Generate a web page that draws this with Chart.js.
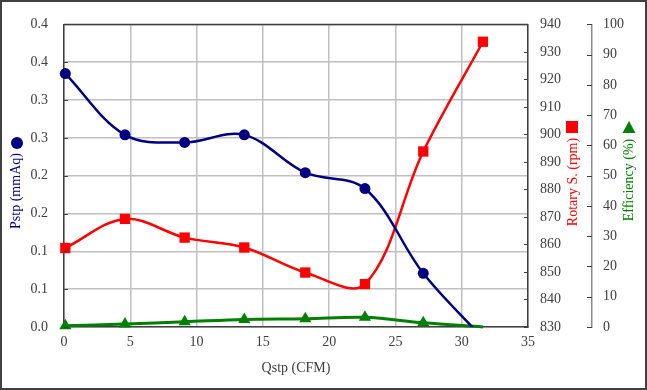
<!DOCTYPE html>
<html>
<head>
<meta charset="utf-8">
<script src="https://cdn.jsdelivr.net/npm/chart.js@4.4.1/dist/chart.umd.min.js"></script>
<style>
  html, body { margin: 0; padding: 0; background: #fff; }
  #wrap { width: 647px; height: 390px; position: relative; }
</style>
</head>
<body>
<div id="wrap"><canvas id="perfChart"></canvas></div>
<script>
// values
const qstp = [0.1, 4.6, 9.1, 13.6, 18.2, 22.7, 27.1, 31.6];
const pstp = [0.335, 0.254, 0.244, 0.254, 0.204, 0.183, 0.071, -0.015];
const rotarySpeed = [858.7, 869.3, 862.5, 858.9, 849.8, 845.6, 893.8, 933.7];
const efficiency = [0.4, 1.0, 1.7, 2.5, 2.7, 3.2, 1.4, 0];
const pstpTickLabels = ['0.0', '0.1', '0.1', '0.2', '0.2', '0.3', '0.3', '0.4', '0.4'];

const toPoints = ys => qstp.map((x, i) => ({ x: x, y: ys[i] }));

const FONT = "'Liberation Serif', 'Times New Roman', serif";
const GREY = '#404040';
const NAVY = '#000080';
const RED = '#ff0000';
const GREEN = '#008000';

function rotatedText(ctx, text, x, y, color) {
  ctx.save();
  ctx.translate(x, y);
  ctx.rotate(-Math.PI / 2);
  ctx.fillStyle = color;
  ctx.textAlign = 'center';
  ctx.textBaseline = 'middle';
  ctx.fillText(text, 0, 0);
  ctx.restore();
}

// frame, plot box top, inner ticks and the three side titles with their markers
const decorations = {
  id: 'decorations',
  afterDraw(chart) {
    const ctx = chart.ctx;
    const area = chart.chartArea;
    const sY = chart.scales.y, sR = chart.scales.rpm, sE = chart.scales.eff;
    ctx.save();
    ctx.strokeStyle = GREY;
    ctx.lineWidth = 1.5;
    ctx.beginPath();
    ctx.moveTo(area.left, area.top);
    ctx.lineTo(area.right, area.top);
    ctx.stroke();

    ctx.lineWidth = 1;
    ctx.beginPath();
    sY.ticks.forEach(t => {
      const y = Math.round(sY.getPixelForValue(t.value)) + 0.5;
      ctx.moveTo(area.left, y); ctx.lineTo(area.left + 4, y);
    });
    sR.ticks.forEach(t => {
      const y = Math.round(sR.getPixelForValue(t.value)) + 0.5;
      ctx.moveTo(area.right, y); ctx.lineTo(area.right - 4, y);
    });
    sE.ticks.forEach(t => {
      const y = Math.round(sE.getPixelForValue(t.value)) + 0.5;
      ctx.moveTo(sE.left, y); ctx.lineTo(sE.left - 5, y);
    });
    ctx.stroke();

    ctx.lineWidth = 2;
    ctx.strokeRect(1, 1, chart.width - 2, chart.height - 2);

    ctx.font = '14px ' + FONT;
    rotatedText(ctx, 'Pstp (mmAq)', 16, 191, NAVY);
    rotatedText(ctx, 'Rotary S. (rpm)', 573, 182, RED);
    rotatedText(ctx, 'Efficiency (%)', 629, 180, GREEN);

    ctx.fillStyle = NAVY;
    ctx.beginPath();
    ctx.arc(17, 143, 6, 0, Math.PI * 2);
    ctx.fill();
    ctx.fillStyle = RED;
    ctx.fillRect(566, 121, 12, 12);
    ctx.fillStyle = GREEN;
    ctx.beginPath();
    ctx.moveTo(629, 121);
    ctx.lineTo(635.5, 133);
    ctx.lineTo(622.5, 133);
    ctx.closePath();
    ctx.fill();
    ctx.restore();
  }
};

const tickFont = { family: FONT, size: 14 };

new Chart(document.getElementById('perfChart'), {
  type: 'line',
  data: {
    datasets: [
      {
        label: 'Pstp',
        data: toPoints(pstp),
        yAxisID: 'y',
        borderColor: NAVY,
        backgroundColor: NAVY,
        borderWidth: 2.5,
        pointStyle: 'circle',
        pointRadius: 5.5,
        pointBorderWidth: 0,
        tension: 0.35,
        clip: { left: 10, top: 10, right: 10, bottom: 0 }
      },
      {
        label: 'Rotary S.',
        data: toPoints(rotarySpeed),
        yAxisID: 'rpm',
        borderColor: RED,
        backgroundColor: RED,
        borderWidth: 2.5,
        pointStyle: 'rect',
        pointRadius: 7.3,
        pointBorderWidth: 0,
        tension: 0.35,
        clip: false
      },
      {
        label: 'Efficiency',
        data: toPoints(efficiency),
        yAxisID: 'eff',
        borderColor: GREEN,
        backgroundColor: GREEN,
        borderWidth: 3,
        pointStyle: 'triangle',
        pointRadius: [7, 7, 7, 7, 7, 7, 7, 0],
        pointBorderWidth: 0,
        tension: 0.35,
        clip: false
      }
    ]
  },
  options: {
    responsive: true,
    maintainAspectRatio: false,
    animation: false,
    layout: { padding: { left: 0, right: 0, top: 19, bottom: 0 } },
    plugins: {
      legend: { display: false },
      tooltip: { enabled: false }
    },
    scales: {
      x: {
        type: 'linear',
        min: 0,
        max: 35,
        ticks: { stepSize: 5, color: GREY, font: tickFont, padding: 7 },
        grid: { color: '#c0c0c0', lineWidth: 1.5, drawTicks: false },
        border: { color: GREY, width: 1.5 },
        title: { display: true, text: 'Qstp (CFM)', color: GREY, font: tickFont, padding: { top: 0, bottom: 13 } },
        afterFit: s => { s.height = 63; }
      },
      y: {
        position: 'left',
        min: 0,
        max: 0.4,
        ticks: {
          stepSize: 0.05,
          color: GREY,
          font: tickFont,
          padding: 16,
          callback: (v, i) => pstpTickLabels[i]
        },
        grid: { color: '#c0c0c0', lineWidth: 1.5, drawTicks: false },
        border: { color: GREY, width: 1.5 },
        afterFit: s => { s.width = 64; }
      },
      rpm: {
        position: 'right',
        min: 830,
        max: 940,
        ticks: { stepSize: 10, color: GREY, font: tickFont, padding: 12 },
        grid: { display: false, drawOnChartArea: false, drawTicks: false },
        border: { color: GREY, width: 1.5 },
        afterFit: s => { s.width = 64; }
      },
      eff: {
        position: 'right',
        min: 0,
        max: 100,
        ticks: { stepSize: 10, color: GREY, font: tickFont, padding: 11 },
        grid: { display: false, drawOnChartArea: false, drawTicks: false },
        border: { color: '#8c8c8c', width: 1.5 },
        afterFit: s => { s.width = 55; }
      }
    }
  },
  plugins: [decorations]
});
</script>
</body>
</html>
